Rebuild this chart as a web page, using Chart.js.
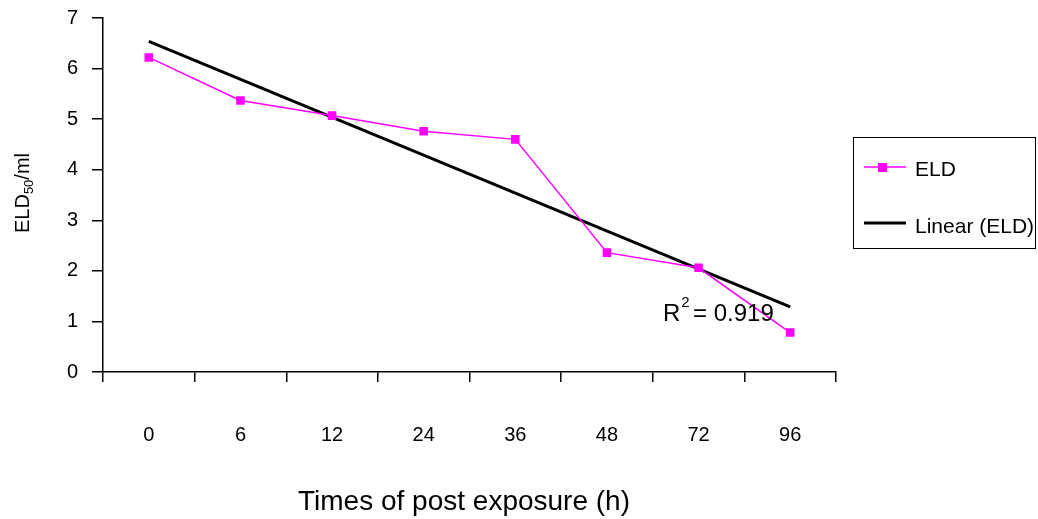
<!DOCTYPE html>
<html>
<head>
<meta charset="utf-8">
<script src="https://cdn.jsdelivr.net/npm/chart.js@4/dist/chart.umd.min.js"></script>
<style>
  body { margin: 0; background: #fff; }
  #wrap { position: relative; width: 1038px; height: 519px; }
</style>
</head>
<body>
<div id="wrap"><canvas id="eldChart" width="1038" height="519"></canvas></div>
<script>
const hours = ['0', '6', '12', '24', '36', '48', '72', '96'];
const eldValues = [6.22, 5.37, 5.07, 4.76, 4.60, 2.36, 2.06, 0.78];
// trend line ends
const trendValues = [6.54, null, null, null, null, null, null, 1.29];
const yTicks = [0, 1, 2, 3, 4, 5, 6, 7];
const rSquared = '0.919';

const FONT = '"Liberation Sans", Arial, sans-serif';
const PINK = '#ff00ff';

// y title with subscript, x title, R² label and framed legend
const extras = {
    id: 'extras',
    afterDraw(chart) {
        const ctx = chart.ctx;
        ctx.save();
        ctx.fillStyle = '#000';

        // y axis title "ELD50/ml"
        ctx.save();
        ctx.translate(29, 193);
        ctx.rotate(-Math.PI / 2);
        ctx.textBaseline = 'alphabetic';
        ctx.textAlign = 'left';
        ctx.font = '20px ' + FONT;
        const w1 = ctx.measureText('ELD').width;
        const w3 = ctx.measureText('/ml').width;
        ctx.font = '13px ' + FONT;
        const w2 = ctx.measureText('50').width;
        let x = -(w1 + w2 + w3) / 2;
        ctx.font = '20px ' + FONT;
        ctx.fillText('ELD', x, 0);
        x += w1;
        ctx.font = '13px ' + FONT;
        ctx.fillText('50', x, 4);
        x += w2;
        ctx.font = '20px ' + FONT;
        ctx.fillText('/ml', x, 0);
        ctx.restore();

        // x axis title
        ctx.font = '28px ' + FONT;
        ctx.textAlign = 'center';
        ctx.textBaseline = 'middle';
        ctx.fillText('Times of post exposure (h)', 464, 502);

        // R² label
        ctx.textAlign = 'left';
        ctx.textBaseline = 'alphabetic';
        ctx.font = '24px ' + FONT;
        ctx.fillText('R', 663, 321);
        const rw = ctx.measureText('R').width;
        ctx.font = '15px ' + FONT;
        ctx.fillText('2', 663 + rw + 1, 307);
        ctx.font = '24px ' + FONT;
        ctx.fillText(' = ' + rSquared, 663 + rw + 6, 321);

        // legend
        ctx.strokeStyle = '#000';
        ctx.lineWidth = 1;
        ctx.strokeRect(853.5, 137.5, 182, 111);
        ctx.strokeStyle = PINK;
        ctx.lineWidth = 1.5;
        ctx.beginPath();
        ctx.moveTo(864, 167);
        ctx.lineTo(906, 167);
        ctx.stroke();
        ctx.fillStyle = PINK;
        ctx.fillRect(878, 163, 9, 9);
        ctx.strokeStyle = '#000';
        ctx.lineWidth = 3;
        ctx.beginPath();
        ctx.moveTo(864, 223);
        ctx.lineTo(906, 223);
        ctx.stroke();
        ctx.fillStyle = '#000';
        ctx.font = '21px ' + FONT;
        ctx.textBaseline = 'middle';
        ctx.fillText('ELD', 915, 170);
        ctx.fillText('Linear (ELD)', 915, 227);

        ctx.restore();
    }
};

new Chart(document.getElementById('eldChart'), {
    type: 'line',
    data: {
        labels: hours,
        datasets: [
            {
                label: 'ELD',
                data: eldValues,
                borderColor: PINK,
                backgroundColor: PINK,
                borderWidth: 1.5,
                pointStyle: 'rect',
                pointRadius: 5,
                pointHoverRadius: 5,
                tension: 0
            },
            {
                label: 'Linear (ELD)',
                data: trendValues,
                borderColor: '#000',
                borderWidth: 3,
                pointRadius: 0,
                spanGaps: true,
                tension: 0
            }
        ]
    },
    options: {
        responsive: false,
        animation: false,
        devicePixelRatio: 1,
        layout: { padding: { left: 0, top: 18, right: 202, bottom: 0 } },
        plugins: {
            legend: { display: false },
            tooltip: { enabled: false }
        },
        scales: {
            x: {
                offset: true,
                grid: {
                    offset: true,
                    drawOnChartArea: false,
                    drawTicks: true,
                    tickLength: 10,
                    color: '#000',
                    lineWidth: 1.5
                },
                border: { color: '#000', width: 1.5 },
                ticks: {
                    color: '#000',
                    font: { family: FONT, size: 20 },
                    padding: 41,
                    maxRotation: 0
                },
                afterFit(scale) {
                    scale.height = 147;
                    scale.paddingLeft = 0;
                    scale.paddingRight = 0;
                }
            },
            y: {
                min: 0,
                max: 7,
                afterBuildTicks(scale) { scale.ticks = yTicks.map(v => ({ value: v })); },
                grid: {
                    drawOnChartArea: false,
                    drawTicks: true,
                    tickLength: 11,
                    color: '#000',
                    lineWidth: 1.5
                },
                border: { color: '#000', width: 1.5 },
                ticks: {
                    color: '#000',
                    font: { family: FONT, size: 20 },
                    padding: 14
                },
                afterFit(scale) {
                    scale.width = 103;
                    scale.paddingTop = 0;
                    scale.paddingBottom = 0;
                }
            }
        }
    },
    plugins: [extras]
});
</script>
</body>
</html>
